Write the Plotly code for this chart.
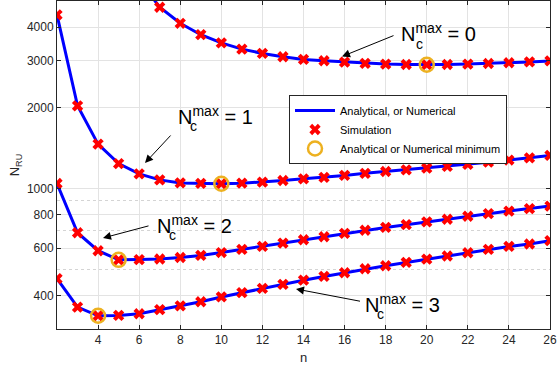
import plotly.graph_objects as go

# number of antennas n, and N_RU for each N_c^max
n_values = list(range(2, 27))

nru_nc0 = [17000, 11500, 8900, 7300, 6000, 4740, 4130, 3745, 3490, 3310, 3190, 3100, 3030,
           2995, 2960, 2930, 2910, 2900, 2895, 2900, 2910, 2925, 2945, 2965, 2990]
nru_nc1 = [4440, 2035, 1465, 1240, 1135, 1078, 1050, 1046, 1043, 1048, 1058, 1072, 1088,
           1102, 1120, 1140, 1158, 1174, 1192, 1210, 1232, 1255, 1278, 1302, 1330]
nru_nc2 = [1045, 685, 587, 543, 544, 547, 554, 564, 578, 594, 609, 627, 645,
           662, 681, 700, 717, 734, 752, 769, 789, 807, 825, 843, 861]
nru_nc3 = [462, 362, 336, 337, 342, 354, 366, 379, 395, 410, 425, 440, 456,
           471, 486, 503, 516, 531, 546, 561, 577, 594, 609, 622, 640]

curves = [nru_nc0, nru_nc1, nru_nc2, nru_nc3]
n_minimum = [20, 10, 5, 4]

y_tickvals = [400, 600, 800, 1000, 2000, 3000, 4000]
x_tickvals = list(range(4, 27, 2))

FONT = "Liberation Sans, Arial, Helvetica, sans-serif"
W, H = 558, 368
L, R, T, B = 57, 8, 1, 39
PW, PH = W - L - R, H - T - B


def px(x):
    return (x - L) / PW


def py(y):
    return (H - B - y) / PH


fig = go.Figure()

# analytical curves
for i, vals in enumerate(curves):
    fig.add_trace(go.Scatter(
        x=n_values, y=vals, mode='lines',
        name='Analytical, or Numerical',
        line=dict(color='#0000ff', width=3),
        showlegend=(i == 0), legendrank=1,
    ))

# simulation markers
for i, vals in enumerate(curves):
    fig.add_trace(go.Scatter(
        x=n_values, y=vals, mode='markers',
        name='Simulation',
        marker=dict(symbol='x', size=10, color='#ff0000'),
        showlegend=(i == 0), legendrank=2,
    ))

# minima
min_y = [curves[i][n_values.index(m)] for i, m in enumerate(n_minimum)]
fig.add_trace(go.Scatter(
    x=n_minimum, y=min_y, mode='markers',
    name='Analytical or Numerical minimum',
    marker=dict(symbol='circle-open', size=14, color='#EDB120', line=dict(width=2.5)),
    legendrank=3,
))

# labels: (text left px, center y px, c px x, c px y, arrow head, arrow tail)
labels = [
    ('0', 399, 33, 419, 44, (342, 56.5), (395, 35)),
    ('1', 176, 115.5, 193, 126, (145, 163), (172, 134)),
    ('2', 155, 225, 172, 234.5, (103, 238), (150, 225.5)),
    ('3', 363, 303, 380, 313.5, (296, 289), (361.5, 301.5)),
]
for k, lx, ly, cx, cy, head, tail in labels:
    fig.add_annotation(
        xref='paper', yref='paper', x=px(lx), y=py(ly),
        xanchor='left', yanchor='middle', showarrow=False,
        text='N<sup>max</sup> = ' + k,
        font=dict(family=FONT, size=20, color='black'),
    )
    fig.add_annotation(
        xref='paper', yref='paper', x=px(cx), y=py(cy),
        xanchor='center', yanchor='middle', showarrow=False,
        text='c', font=dict(family=FONT, size=14, color='black'),
    )
    fig.add_annotation(
        xref='paper', yref='paper', x=px(head[0]), y=py(head[1]),
        ax=tail[0] - head[0], ay=tail[1] - head[1],
        text='', showarrow=True, arrowhead=2, arrowsize=1.6,
        arrowwidth=1, arrowcolor='black',
    )

axis_common = dict(
    showline=True, linecolor='#262626', linewidth=1, mirror='ticks',
    ticks='inside', ticklen=4, tickcolor='#262626',
    showgrid=True, gridcolor='#e3e3e3', gridwidth=1,
    tickfont=dict(family=FONT, size=12, color='#262626'),
    zeroline=False, automargin=False,
)

fig.update_layout(
    width=W, height=H,
    margin=dict(l=L, r=R, t=T, b=B),
    paper_bgcolor='white', plot_bgcolor='white',
    font=dict(family=FONT, color='#262626'),
    xaxis=dict(
        range=[2, 26], tickmode='array', tickvals=x_tickvals,
        title=dict(text='n', font=dict(size=13), standoff=6),
        **axis_common,
    ),
    yaxis=dict(
        type='log', range=[2.4771, 3.699],
        tickmode='array', tickvals=y_tickvals, ticktext=[str(v) for v in y_tickvals],
        title=dict(text='N<sub>RU</sub>', font=dict(size=13), standoff=4),
        minor=dict(tickmode='array', tickvals=[500, 700, 900], showgrid=True,
                   griddash='dot', gridcolor='#d4d4d4', ticks=''),
        **axis_common,
    ),
    legend=dict(
        x=px(289), y=py(95), xanchor='left', yanchor='top',
        bgcolor='white', bordercolor='#262626', borderwidth=1,
        font=dict(family=FONT, size=11, color='black'),
        tracegroupgap=0, itemwidth=40,
    ),
)

# drop the default page margin so the figure sits at the window's corner
fig.write_html("out.html", config={'displayModeBar': False},
               post_script="document.body.style.margin='0';")
